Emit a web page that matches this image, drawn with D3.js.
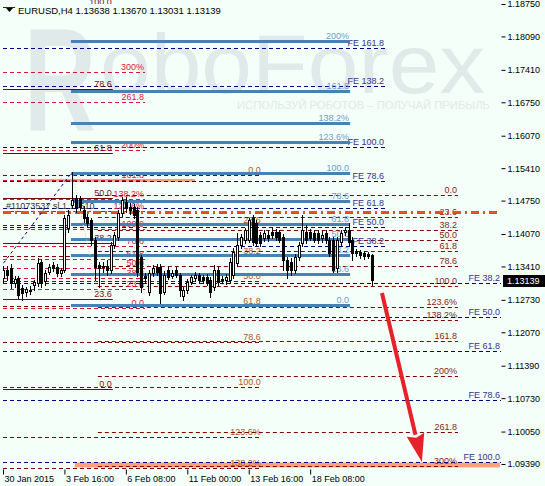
<!DOCTYPE html>
<html>
<head>
<meta charset="utf-8">
<script src="https://cdn.jsdelivr.net/npm/d3@7"></script>
<style>
    body { margin: 0; background: #f3fff8; }
    svg { display: block; font-family: "Liberation Sans", Arial, sans-serif; }
</style>
</head>
<body>
<svg width="545" height="486"></svg>
<script>
// EURUSD H4 bars, first bar = 30 Jan 2015 00:00
var opens  = [1.1317,1.1334,1.1338,1.1307,1.1317,1.1297,1.1289,1.1291,1.1303,1.1307,1.1350,1.1311,1.1330,1.1344,1.1340,1.1328,
              1.1334,1.1419,1.1466,1.1480,1.1480,1.1456,1.1442,1.1435,1.1395,1.1344,1.1340,1.1342,1.1334,1.1385,1.1401,1.1450,
              1.1472,1.1462,1.1462,1.1456,1.1360,1.1322,1.1289,1.1328,1.1340,1.1340,1.1289,1.1334,1.1322,1.1334,1.1324,1.1281,
              1.1293,1.1309,1.1317,1.1324,1.1319,1.1319,1.1313,1.1299,1.1334,1.1315,1.1313,1.1313,1.1324,1.1348,1.1385,1.1395,
              1.1395,1.1439,1.1429,1.1405,1.1399,1.1405,1.1411,1.1411,1.1411,1.1401,1.1354,1.1350,1.1334,1.1360,1.1389,1.1411,
              1.1411,1.1409,1.1409,1.1399,1.1409,1.1395,1.1395,1.1338,1.1391,1.1411,1.1415,1.1395,1.1372,1.1370,1.1368,1.1366,
              1.13638];
var highs  = [1.1342,1.1342,1.1346,1.1322,1.1322,1.1303,1.1299,1.1301,1.1313,1.1358,1.1356,1.1334,1.1346,1.1350,1.1346,1.1338,
              1.1446,1.1456,1.1533,1.1486,1.1484,1.1464,1.1448,1.1439,1.1401,1.1350,1.1350,1.1354,1.1391,1.1411,1.1456,1.1482,
              1.1482,1.1470,1.1468,1.1462,1.1364,1.1328,1.1334,1.1344,1.1346,1.1346,1.1332,1.1340,1.1334,1.1340,1.1328,1.1299,
              1.1315,1.1324,1.1330,1.1328,1.1324,1.1326,1.1319,1.1344,1.1340,1.1322,1.1326,1.1358,1.1378,1.1409,1.1407,1.1419,
              1.1439,1.1446,1.1435,1.1411,1.1415,1.1415,1.1419,1.1417,1.1415,1.1407,1.1360,1.1358,1.1366,1.1391,1.1446,1.1425,
              1.1417,1.1415,1.1415,1.1413,1.1415,1.1401,1.1401,1.1401,1.1415,1.1421,1.1429,1.1401,1.1376,1.1374,1.1372,1.1370,
              1.13670];
var lows   = [1.1309,1.1313,1.1297,1.1299,1.1277,1.1273,1.1281,1.1285,1.1293,1.1301,1.1299,1.1303,1.1326,1.1332,1.1322,1.1322,
              1.1330,1.1411,1.1460,1.1452,1.1456,1.1431,1.1423,1.1385,1.1313,1.1299,1.1330,1.1324,1.1328,1.1378,1.1395,1.1444,
              1.1452,1.1448,1.1439,1.1322,1.1289,1.1309,1.1283,1.1322,1.1324,1.1267,1.1285,1.1315,1.1317,1.1319,1.1281,1.1273,
              1.1287,1.1305,1.1311,1.1307,1.1307,1.1303,1.1279,1.1293,1.1303,1.1307,1.1305,1.1309,1.1317,1.1342,1.1378,1.1389,
              1.1391,1.1385,1.1383,1.1383,1.1393,1.1393,1.1399,1.1395,1.1391,1.1334,1.1317,1.1324,1.1328,1.1354,1.1383,1.1389,
              1.1395,1.1391,1.1389,1.1391,1.1389,1.1362,1.1330,1.1330,1.1385,1.1405,1.1385,1.1354,1.1362,1.1358,1.1356,1.1358,
              1.13031];
var closes = [1.1334,1.1324,1.1307,1.1315,1.1283,1.1287,1.1295,1.1293,1.1309,1.1348,1.1307,1.1328,1.1340,1.1338,1.1328,1.1334,
              1.1439,1.1446,1.1476,1.1460,1.1462,1.1439,1.1429,1.1395,1.1340,1.1338,1.1342,1.1334,1.1385,1.1405,1.1450,1.1476,
              1.1460,1.1456,1.1446,1.1330,1.1299,1.1317,1.1328,1.1338,1.1330,1.1287,1.1324,1.1319,1.1328,1.1324,1.1293,1.1293,
              1.1309,1.1319,1.1324,1.1313,1.1313,1.1309,1.1289,1.1334,1.1309,1.1313,1.1319,1.1350,1.1370,1.1385,1.1401,1.1415,
              1.1435,1.1391,1.1389,1.1389,1.1409,1.1399,1.1405,1.1401,1.1395,1.1354,1.1334,1.1334,1.1360,1.1385,1.1415,1.1395,
              1.1399,1.1395,1.1395,1.1405,1.1395,1.1368,1.1334,1.1395,1.1409,1.1415,1.1391,1.1368,1.1368,1.1364,1.1362,1.1362,
              1.13139];

var timeTicks  = [0, 16, 32, 48, 64, 80];
var timeLabels = ["30 Jan 2015", "3 Feb 16:00", "6 Feb 08:00", "11 Feb 00:00", "13 Feb 16:00", "18 Feb 08:00"];
var priceTicks = [1.18750, 1.18090, 1.17410, 1.16750, 1.16070, 1.15410, 1.14750, 1.14070,
                  1.13410, 1.12730, 1.12070, 1.11390, 1.10730, 1.10050, 1.09390];

var fiboLevels = [0, 23.6, 38.2, 50, 61.8, 78.6, 100, 123.6, 138.2, 161.8, 200, 261.8, 300];
var fiboLabels = ["0.0", "23.6", "38.2", "50.0", "61.8", "78.6", "100.0", "123.6%", "138.2%", "161.8", "200%", "261.8", "300%"];
var feLevels = [38.2, 50, 61.8, 78.6, 100, 138.2, 161.8];
var feLabels = ["FE 38.2", "FE 50.0", "FE 61.8", "FE 78.6", "FE 100.0", "FE 138.2", "FE 161.8"];

// fibo objects: [bar from, bar to, price at 0%, price at 100%]
var fiboSolid   = [0, 28.6, 1.1092, 1.1868];
var fiboUpper   = [0, 37, 1.1257, 1.1417];
var fiboWide    = [24.7, 118.5, 1.1486, 1.1302];
var fiboMid     = [0, 67.4, 1.1527, 1.1096];
var fiboBlue    = [17.7, 90.4, 1.1262, 1.1531];
var expansionA  = [0, 99.5, 1.1258, 1.1584];
var expansionB  = [0, 129.7, 1.1533, 1.0943];

// rectangles: [bar from, bar to, price top, price bottom]
var zoneTop    = [6.2, 50, 1.1519, 1.1513];
var zoneBottom = [18.7, 129.4, 1.0942, 1.0932];

var stopLoss = 1.1452;
var trendLine = [[-0.8, 1.1338], [18, 1.1533]];
var swingLine = [[18, 1.1533], [25.3, 1.1267]];
var arrow = [[98.7, 1.1287], [109.1, 1.0943]];
var lastPrice = 1.13139;

var svg = d3.select("svg"),
    bg = "#f3fff8",
    left = 3, right = 501, top = 2, bottom = 469;

var x = d3.scaleLinear().domain([0, 129.7]).range([left, right]);
var y = d3.scaleLinear().domain([1.09390, 1.18750]).range([464, 4]);

function py(p) { return Math.round(y(p)) + 0.5; }

svg.append("rect").attr("width", 545).attr("height", 486).attr("fill", bg);

svg.append("clipPath").attr("id", "plot")
    .append("rect").attr("x", left).attr("y", 0).attr("width", right - left).attr("height", bottom);

var g = svg.append("g").attr("clip-path", "url(#plot)");

// watermark
var wm = g.append("g").attr("fill", "#e1eaea");
wm.append("text").attr("x", 24).attr("y", 130).attr("font-size", 146).attr("font-weight", "bold")
    .attr("textLength", 72).attr("lengthAdjust", "spacingAndGlyphs").text("R");
wm.append("text").attr("x", 100).attr("y", 93).attr("font-size", 84)
    .attr("textLength", 385).attr("lengthAdjust", "spacingAndGlyphs").text("oboForex");
wm.append("text").attr("x", 237).attr("y", 109).attr("font-size", 11.5)
    .attr("textLength", 253).attr("lengthAdjust", "spacingAndGlyphs").text("ИСПОЛЬЗУЙ РОБОТОВ – ПОЛУЧАЙ ПРИБЫЛЬ");

// salmon zones
[zoneTop, zoneBottom].forEach(function (z) {
    g.append("rect")
        .attr("x", x(z[0])).attr("width", x(z[1]) - x(z[0]))
        .attr("y", y(z[2])).attr("height", y(z[3]) - y(z[2]))
        .attr("fill", "#ffa07a");
});

function drawFibo(grid, levels, labels, st) {
    var grp = g.append("g");
    levels.forEach(function (lv, i) {
        var p = grid[2] + (grid[3] - grid[2]) * lv / 100,
            yy = st.width % 2 ? py(p) : Math.round(y(p));
        grp.append("line")
            .attr("x1", x(grid[0])).attr("x2", x(grid[1]))
            .attr("y1", yy).attr("y2", yy)
            .attr("stroke", st.stroke).attr("stroke-width", st.width)
            .attr("stroke-dasharray", st.dash);
        grp.append("text")
            .attr("x", x(grid[1]) - 1).attr("y", yy - 2.5)
            .attr("text-anchor", "end").attr("font-size", 9)
            .attr("fill", st.text).text(labels[i]);
    });
}

drawFibo(fiboMid, fiboLevels, fiboLabels, {stroke: "#800000", width: 1, dash: "4,3", text: "#b0552a"});
drawFibo(fiboWide, fiboLevels, fiboLabels, {stroke: "#800000", width: 1, dash: "4,3", text: "#8b1c1c"});
drawFibo(expansionA, feLevels, feLabels, {stroke: "#000080", width: 1, dash: "4,3", text: "#33338f"});
drawFibo(expansionB, feLevels, feLabels, {stroke: "#000080", width: 1, dash: "4,3", text: "#33338f"});
drawFibo(fiboUpper, fiboLevels, fiboLabels, {stroke: "#dc143c", width: 1, dash: "4,3", text: "#dc143c"});
drawFibo(fiboSolid, fiboLevels, fiboLabels, {stroke: "#800000", width: 1, dash: null, text: "#7a1010"});
drawFibo(fiboBlue, fiboLevels, fiboLabels, {stroke: "#4682b4", width: 3, dash: null, text: "#6c9bd2"});

// stop-loss order line
var sy = Math.round(y(stopLoss));
g.append("line").attr("x1", left).attr("x2", right).attr("y1", sy + 1.5).attr("y2", sy + 1.5)
    .attr("stroke", "#2e9e2e").attr("stroke-width", 1).attr("stroke-dasharray", "8,4,2,4");
g.append("line").attr("x1", left).attr("x2", right).attr("y1", sy).attr("y2", sy)
    .attr("stroke", "#f0501e").attr("stroke-width", 2).attr("stroke-dasharray", "8,4,2,4");
g.append("text").attr("x", 6).attr("y", sy - 3).attr("font-size", 9).attr("fill", "#333")
    .text("#11073537 sl 1.14510");

// trend lines
g.append("line")
    .attr("x1", x(trendLine[0][0])).attr("y1", y(trendLine[0][1]))
    .attr("x2", x(trendLine[1][0])).attr("y2", y(trendLine[1][1]))
    .attr("stroke", "#000080").attr("stroke-dasharray", "3,3");
g.append("line")
    .attr("x1", x(swingLine[0][0])).attr("y1", y(swingLine[0][1]))
    .attr("x2", x(swingLine[1][0])).attr("y2", y(swingLine[1][1]))
    .attr("stroke", "#f5c89a").attr("stroke-dasharray", "1,2");

// candles
var bars = g.append("g");
closes.forEach(function (c, i) {
    var cx = Math.round(x(i)),
        o = opens[i],
        yTop = Math.round(y(Math.max(o, c))),
        yBot = Math.round(y(Math.min(o, c)));
    bars.append("line")
        .attr("x1", cx + 0.5).attr("x2", cx + 0.5)
        .attr("y1", Math.round(y(highs[i]))).attr("y2", Math.round(y(lows[i])) + 1)
        .attr("stroke", "#000");
    if (c >= o) {
        bars.append("rect")
            .attr("x", cx - 0.5).attr("y", yTop + 0.5)
            .attr("width", 2).attr("height", Math.max(1, yBot - yTop))
            .attr("fill", "#fff").attr("stroke", "#000");
    } else {
        bars.append("rect")
            .attr("x", cx - 1).attr("y", yTop)
            .attr("width", 3).attr("height", Math.max(1, yBot - yTop + 1))
            .attr("fill", "#000");
    }
});

// forecast arrow
var ax1 = x(arrow[0][0]), ay1 = y(arrow[0][1]),
    ax2 = x(arrow[1][0]), ay2 = y(arrow[1][1]),
    len = Math.hypot(ax2 - ax1, ay2 - ay1),
    ux = (ax2 - ax1) / len, uy = (ay2 - ay1) / len,
    bx = ax2 - ux * 28, by = ay2 - uy * 28;
g.append("line").attr("x1", ax1).attr("y1", ay1).attr("x2", bx).attr("y2", by)
    .attr("stroke", "#e8202a").attr("stroke-width", 4);
g.append("path")
    .attr("d", "M" + ax2 + "," + ay2 +
        "L" + (bx - uy * 9) + "," + (by + ux * 9) +
        "L" + (bx + ux * 3) + "," + (by + uy * 3) +
        "L" + (bx + uy * 9) + "," + (by - ux * 9) + "Z")
    .attr("fill", "#e8202a");

// frame
svg.append("rect").attr("x", left - 0.5).attr("y", top + 0.5)
    .attr("width", right - left + 1).attr("height", bottom - top)
    .attr("fill", "none").attr("stroke", "#000");

// price axis
var yAxis = svg.append("g")
    .attr("transform", "translate(" + (right + 0.5) + ",0)")
    .call(d3.axisRight(y).tickValues(priceTicks).tickFormat(d3.format(".5f")).tickSize(4).tickPadding(2));
yAxis.select(".domain").remove();
yAxis.selectAll("text").attr("font-size", 9).attr("font-family", "Liberation Sans, Arial, sans-serif").attr("fill", "#000");

// last price tag
var ly = y(lastPrice);
svg.append("rect").attr("x", 503).attr("y", Math.round(ly) - 5).attr("width", 42).attr("height", 12).attr("fill", "#000");
svg.append("text").attr("x", 507).attr("y", Math.round(ly) + 4).attr("font-size", 9).attr("fill", "#fff")
    .text(d3.format(".5f")(lastPrice));

// time axis
var xAxis = svg.append("g")
    .attr("transform", "translate(0," + (bottom + 0.5) + ")")
    .call(d3.axisBottom(x).tickValues(timeTicks)
        .tickFormat(function (d, i) { return timeLabels[i]; }).tickSize(5).tickPadding(1));
xAxis.select(".domain").remove();
xAxis.selectAll("text").attr("text-anchor", "start").attr("dx", 1).attr("font-size", 9)
    .attr("font-family", "Liberation Sans, Arial, sans-serif").attr("fill", "#000");

// header
svg.append("rect").attr("x", 15).attr("y", 4).attr("width", 232).attr("height", 12).attr("fill", bg);
svg.append("path").attr("d", "M6,8L13,8L9.5,12Z").attr("fill", "#000");
svg.append("text").attr("x", 18).attr("y", 14).attr("font-size", 9.5).attr("fill", "#000")
    .text("EURUSD,H4  1.13638 1.13670 1.13031 1.13139");
</script>
</body>
</html>
